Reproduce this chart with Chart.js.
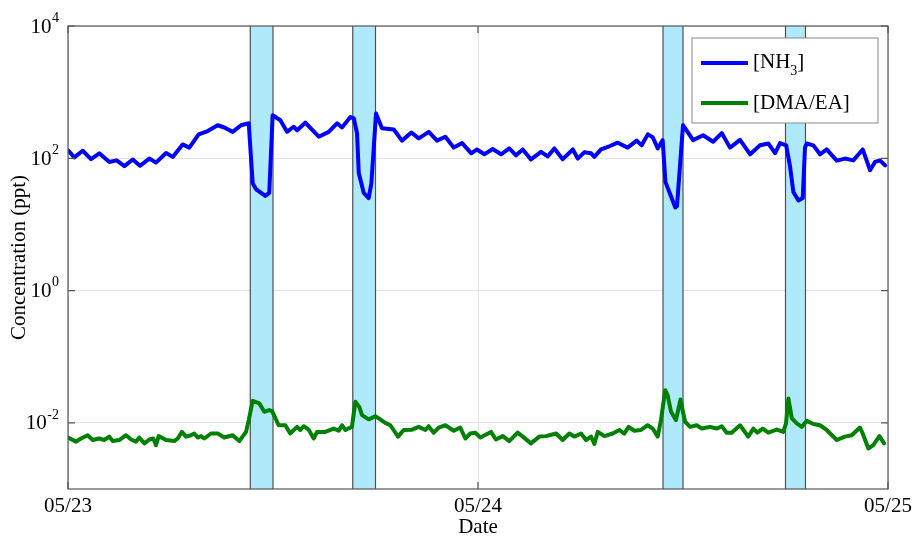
<!DOCTYPE html>
<html>
<head>
<meta charset="utf-8">
<script src="https://cdn.jsdelivr.net/npm/chart.js@4.4.0/dist/chart.umd.min.js"></script>
<style>
  html, body { margin: 0; padding: 0; background: #fff; }
</style>
</head>
<body>
<canvas id="concChart" width="913" height="537"></canvas>
<script>
// hours since 05/23 00:00
const nh3Hours = [0.0, 0.37, 0.86, 1.35, 1.83, 2.42, 2.85, 3.30, 3.79, 4.21, 4.76, 5.15, 5.74, 6.13, 6.71, 7.10, 7.65, 8.18, 8.76, 9.15, 9.64, 10.13, 10.58,
  10.81, 11.01, 11.55, 11.78, 11.98, 12.43, 12.82, 13.21, 13.41, 13.89, 14.68, 15.26, 15.75, 16.04, 16.53, 16.73,
  16.92, 17.02, 17.31, 17.60, 17.76, 18.03, 18.38, 19.07, 19.55, 20.10, 20.53, 21.12, 21.60, 22.09, 22.58, 23.07, 23.61, 23.94,
  24.37, 24.86, 25.35, 25.83, 26.23, 26.62, 27.10, 27.69, 28.08, 28.47, 28.96, 29.55, 29.84, 30.22, 30.62, 30.81, 31.20, 31.69,
  32.18, 32.76, 33.29, 33.58, 33.94, 34.23, 34.52, 34.81, 34.97, 35.20, 35.55, 35.65, 36.00, 36.59, 37.18, 37.76, 38.27, 38.75,
  39.34, 39.93, 40.51, 41.00, 41.39, 41.68, 42.04, 42.27, 42.46, 42.76, 43.01, 43.14, 43.24, 43.63, 44.02, 44.41, 45.00, 45.48,
  45.97, 46.52, 46.95, 47.24, 47.53, 47.83];
const nh3Values = [132, 103, 130, 97, 119, 88, 93, 76, 96, 77, 99, 86, 120, 105, 162, 145, 230, 258, 316, 292, 251, 316, 338,
  42, 34, 27, 30, 448, 376, 251, 300, 265, 345, 212, 251, 338, 292, 420, 400,
  240, 60, 30, 25, 42, 475, 285, 272, 185, 245, 200, 251, 185, 212, 145, 170, 119, 136,
  115, 138, 115, 141, 111, 136, 96, 125, 107, 141, 97, 136, 99, 123, 119, 105, 136, 152,
  172, 145, 185, 157, 230, 208, 141, 188, 44, 31, 18, 19, 316, 188, 223, 178, 240, 145,
  190, 115, 157, 167, 120, 170, 157, 74, 31, 23, 25, 145, 167, 157, 115, 136, 92, 99,
  93, 136, 66, 88, 93, 78];

const dmaHours = [0.0, 0.47, 0.76, 1.15, 1.45, 1.83, 2.12, 2.42, 2.62, 3.00, 3.40, 3.69, 3.98, 4.17, 4.47, 4.76, 4.99, 5.15, 5.31,
  5.74, 6.22, 6.42, 6.67, 6.91, 7.20, 7.39, 7.59, 7.79, 7.98, 8.37, 8.76, 9.15, 9.64, 10.03, 10.42, 10.58, 10.81, 11.20, 11.49,
  11.78, 11.95, 12.33, 12.72, 13.01, 13.41, 13.60, 13.80, 14.09, 14.38, 14.58, 15.06, 15.55, 15.85, 16.04, 16.23, 16.62, 16.82,
  17.05, 17.21, 17.60, 17.99, 18.28, 18.57, 18.87, 19.32, 19.65, 20.14, 20.53, 20.92, 21.11, 21.41, 21.70, 22.09, 22.58, 22.96,
  23.26, 23.55, 23.84, 24.14, 24.76, 25.05, 25.45, 25.83, 26.32, 26.62, 27.10, 27.59, 27.98, 28.57, 28.96, 29.35, 29.64, 30.03,
  30.32, 30.62, 30.81, 31.01, 31.40, 31.89, 32.27, 32.56, 32.82, 33.15, 33.54, 33.93, 34.23, 34.52, 34.71, 34.96, 35.10, 35.30,
  35.59, 35.85, 36.12, 36.41, 36.80, 37.10, 37.58, 37.97, 38.27, 38.56, 38.85, 39.34, 39.82, 40.12, 40.35, 40.67, 40.99, 41.49,
  41.87, 42.03, 42.17, 42.37, 42.66, 42.95, 43.24, 43.63, 44.02, 44.41, 45.00, 45.48, 45.88, 46.36, 46.52, 46.85, 47.14, 47.50, 47.77];
const dmaValues = [0.0060, 0.0052, 0.0058, 0.0065, 0.0055, 0.0058, 0.0055, 0.0062, 0.0053, 0.0055, 0.0065, 0.0056, 0.0052, 0.0060, 0.0049, 0.0056, 0.0058, 0.0046, 0.0063,
  0.0055, 0.0053, 0.0058, 0.0073, 0.0062, 0.0065, 0.0069, 0.0060, 0.0063, 0.0058, 0.0069, 0.0069, 0.0060, 0.0065, 0.0053, 0.0073, 0.0110, 0.0215, 0.0197, 0.0147,
  0.0156, 0.0150, 0.0092, 0.0092, 0.0069, 0.0087, 0.0078, 0.0089, 0.0079, 0.0058, 0.0073, 0.0073, 0.0082, 0.0076, 0.0092, 0.0078, 0.0087, 0.0208,
  0.0174, 0.0131, 0.0113, 0.0126, 0.0113, 0.0100, 0.0092, 0.0062, 0.0078, 0.0079, 0.0087, 0.0078, 0.0089, 0.0071, 0.0085, 0.0092, 0.0076, 0.0085,
  0.0058, 0.0069, 0.0071, 0.0060, 0.0073, 0.0056, 0.0063, 0.0053, 0.0071, 0.0062, 0.0049, 0.0062, 0.0063, 0.0069, 0.0055, 0.0069, 0.0062, 0.0069,
  0.0055, 0.0062, 0.0048, 0.0073, 0.0063, 0.0069, 0.0078, 0.0069, 0.0087, 0.0076, 0.0078, 0.0092, 0.0082, 0.0062, 0.0110, 0.0312, 0.0262, 0.0147,
  0.0110, 0.0225, 0.0104, 0.0087, 0.0092, 0.0082, 0.0087, 0.0082, 0.0089, 0.0071, 0.0071, 0.0092, 0.0062, 0.0082, 0.0071, 0.0082, 0.0071, 0.0079,
  0.0073, 0.0098, 0.0234, 0.0117, 0.0098, 0.0087, 0.0107, 0.0096, 0.0092, 0.0078, 0.0055, 0.0062, 0.0065, 0.0085, 0.0069, 0.0041, 0.0046, 0.0063, 0.0049];

// shaded periods (hours)
const bandStart = [10.67, 16.67, 34.83, 42.0];
const bandEnd = [12.0, 18.0, 36.0, 43.17];

const xTickHours = [0, 24, 48];
const xTickLabels = ['05/23', '05/24', '05/25'];
const yTickValues = [1e-2, 1e0, 1e2, 1e4];

const seriesLabels = ['[NH3]', '[DMA/EA]'];
const seriesColors = ['#0000ff', '#008000'];

const serif = "'Liberation Serif', 'Times New Roman', serif";

function toPoints(hours, values) {
  return hours.map((h, i) => ({ x: h, y: values[i] }));
}

const framePlugin = {
  id: 'frame',
  beforeDatasetsDraw(chart) {
    const { ctx, chartArea: a, scales: { x } } = chart;
    ctx.save();
    bandStart.forEach((s, i) => {
      const x0 = x.getPixelForValue(s);
      const x1 = x.getPixelForValue(bandEnd[i]);
      ctx.fillStyle = '#aeeafb';
      ctx.fillRect(x0, a.top, x1 - x0, a.bottom - a.top);
      ctx.strokeStyle = '#4f4f4f';
      ctx.lineWidth = 1.2;
      ctx.beginPath();
      ctx.moveTo(x0, a.top); ctx.lineTo(x0, a.bottom);
      ctx.moveTo(x1, a.top); ctx.lineTo(x1, a.bottom);
      ctx.stroke();
    });
    ctx.restore();
  },
  afterDraw(chart) {
    const { ctx, chartArea: a, scales: { x, y } } = chart;
    ctx.save();

    // axes box + inward ticks
    ctx.strokeStyle = '#555';
    ctx.lineWidth = 1.2;
    ctx.strokeRect(a.left, a.top, a.right - a.left, a.bottom - a.top);
    ctx.beginPath();
    xTickHours.forEach(h => {
      const px = x.getPixelForValue(h);
      ctx.moveTo(px, a.bottom); ctx.lineTo(px, a.bottom - 7);
      ctx.moveTo(px, a.top); ctx.lineTo(px, a.top + 7);
    });
    yTickValues.forEach(v => {
      const py = y.getPixelForValue(v);
      ctx.moveTo(a.left, py); ctx.lineTo(a.left + 7, py);
      ctx.moveTo(a.right, py); ctx.lineTo(a.right - 7, py);
    });
    ctx.stroke();

    ctx.fillStyle = '#000';
    // y tick labels 10^n
    yTickValues.forEach(v => {
      const py = y.getPixelForValue(v);
      const ex = String(Math.round(Math.log10(v)));
      ctx.font = `14px ${serif}`;
      const ew = ctx.measureText(ex).width;
      const ex0 = a.left - 9 - ew;
      ctx.textAlign = 'left';
      ctx.textBaseline = 'middle';
      ctx.fillText(ex, ex0, py - 8);
      ctx.font = `21px ${serif}`;
      ctx.textAlign = 'right';
      ctx.fillText('10', ex0 - 0.5, py + 1);
    });

    // x tick labels
    ctx.font = `21px ${serif}`;
    ctx.textAlign = 'center';
    ctx.textBaseline = 'middle';
    xTickHours.forEach((h, i) => {
      ctx.fillText(xTickLabels[i], x.getPixelForValue(h), a.bottom + 17);
    });

    // axis titles
    ctx.fillText('Date', (a.left + a.right) / 2, a.bottom + 38);
    ctx.save();
    ctx.translate(19, (a.top + a.bottom) / 2);
    ctx.rotate(-Math.PI / 2);
    ctx.fillText('Concentration (ppt)', 0, 0);
    ctx.restore();

    // legend
    const bx = a.right - 196, by = a.top + 12, bw = 186, bh = 85;
    ctx.fillStyle = '#fff';
    ctx.fillRect(bx, by, bw, bh);
    ctx.strokeStyle = '#888';
    ctx.lineWidth = 1;
    ctx.strokeRect(bx, by, bw, bh);
    const rows = [by + 25, by + 65];
    rows.forEach((ry, i) => {
      ctx.strokeStyle = seriesColors[i];
      ctx.lineWidth = 4;
      ctx.beginPath();
      ctx.moveTo(bx + 9, ry); ctx.lineTo(bx + 56, ry);
      ctx.stroke();
    });
    ctx.fillStyle = '#000';
    ctx.textAlign = 'left';
    ctx.textBaseline = 'middle';
    ctx.font = `21px ${serif}`;
    // [NH3] with subscript 3
    const tx = bx + 61;
    ctx.fillText('[NH', tx, rows[0] - 1);
    let w = ctx.measureText('[NH').width;
    ctx.font = `14px ${serif}`;
    ctx.fillText('3', tx + w, rows[0] + 8);
    w += ctx.measureText('3').width;
    ctx.font = `21px ${serif}`;
    ctx.fillText(']', tx + w, rows[0] - 1);
    ctx.fillText(seriesLabels[1], tx, rows[1]);

    ctx.restore();
  }
};

const ctx = document.getElementById('concChart').getContext('2d');
const concChart = new Chart(ctx, {
  type: 'line',
  data: {
    datasets: [
      {
        label: seriesLabels[0],
        data: toPoints(nh3Hours, nh3Values),
        borderColor: seriesColors[0],
        borderWidth: 4,
        borderJoinStyle: 'round',
        borderCapStyle: 'round',
        pointRadius: 0,
        tension: 0
      },
      {
        label: seriesLabels[1],
        data: toPoints(dmaHours, dmaValues),
        borderColor: seriesColors[1],
        borderWidth: 4,
        borderJoinStyle: 'round',
        borderCapStyle: 'round',
        pointRadius: 0,
        tension: 0
      }
    ]
  },
  options: {
    responsive: false,
    animation: false,
    devicePixelRatio: 1,
    layout: { padding: { top: 26, right: 25, left: 0, bottom: 0 } },
    plugins: { legend: { display: false }, tooltip: { enabled: false } },
    scales: {
      x: {
        type: 'linear',
        min: 0,
        max: 48,
        afterBuildTicks: s => { s.ticks = xTickHours.map(v => ({ value: v })); },
        afterFit: s => { s.height = 48; },
        ticks: { display: false },
        grid: { color: '#e4e4e4', drawTicks: false },
        border: { display: false }
      },
      y: {
        type: 'logarithmic',
        min: 1e-3,
        max: 1e4,
        afterBuildTicks: s => { s.ticks = yTickValues.map(v => ({ value: v })); },
        afterFit: s => { s.width = 68; },
        ticks: { display: false },
        grid: { color: '#e4e4e4', drawTicks: false },
        border: { display: false }
      }
    }
  },
  plugins: [framePlugin]
});
</script>
</body>
</html>
